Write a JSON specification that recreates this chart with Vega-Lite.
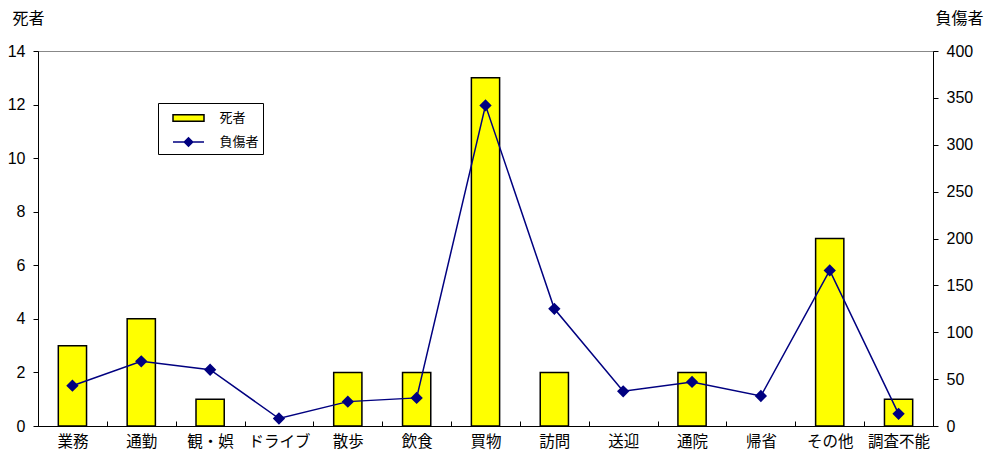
{
  "$schema": "https://vega.github.io/schema/vega-lite/v6.json",
  "width": 895,
  "height": 375,
  "autosize": "none",
  "padding": {"left": 38, "top": 51, "right": 58, "bottom": 31},
  "background": "white",
  "config": {
    "font": "Liberation Sans, Noto Sans CJK JP, sans-serif",
    "view": {"stroke": "#888", "strokeWidth": 1},
    "axis": {
      "labelFont": "Liberation Sans, Noto Sans CJK JP, sans-serif",
      "labelFontSize": 16,
      "labelColor": "black",
      "titleFont": "Noto Sans CJK JP, sans-serif",
      "titleFontSize": 16,
      "titleFontWeight": "normal",
      "titleColor": "black",
      "domainColor": "black",
      "tickColor": "black",
      "grid": false
    },
    "legend": {
      "title": null,
      "orient": "none",
      "legendX": 120,
      "legendY": 52,
      "direction": "vertical",
      "strokeColor": "black",
      "fillColor": "white",
      "padding": 4,
      "symbolSize": 400,
      "symbolOffset": 15.5,
      "rowPadding": 6,
      "labelFont": "Noto Sans CJK JP, sans-serif",
      "labelFontSize": 13,
      "labelColor": "black",
      "labelOffset": 20
    }
  },
  "data": {
    "values": [
      {"cat": "業務", "deaths": 3, "injured": 43},
      {"cat": "通勤", "deaths": 4, "injured": 69},
      {"cat": "観・娯", "deaths": 1, "injured": 60},
      {"cat": "ドライブ", "deaths": 0, "injured": 8},
      {"cat": "散歩", "deaths": 2, "injured": 26},
      {"cat": "飲食", "deaths": 2, "injured": 30},
      {"cat": "買物", "deaths": 13, "injured": 342},
      {"cat": "訪問", "deaths": 2, "injured": 125},
      {"cat": "送迎", "deaths": 0, "injured": 37},
      {"cat": "通院", "deaths": 2, "injured": 47},
      {"cat": "帰省", "deaths": 0, "injured": 32},
      {"cat": "その他", "deaths": 7, "injured": 166},
      {"cat": "調査不能", "deaths": 1, "injured": 13}
    ]
  },
  "encoding": {
    "x": {
      "field": "cat",
      "type": "nominal",
      "sort": ["業務", "通勤", "観・娯", "ドライブ", "散歩", "飲食", "買物", "訪問", "送迎", "通院", "帰省", "その他", "調査不能"],
      "scale": {"paddingInner": 0, "paddingOuter": 0},
      "axis": {
        "title": null,
        "labelAngle": 0,
        "tickBand": "extent",
        "tickSize": -5,
        "labelPadding": 13,
        "labelFont": "Noto Sans CJK JP, sans-serif",
        "labelFontSize": 15.5
      }
    }
  },
  "layer": [
    {
      "transform": [{"filter": "datum.deaths > 0"}],
      "mark": {"type": "bar", "width": {"band": 0.41}, "fill": "#FFFF00", "stroke": "black", "strokeWidth": 1.5},
      "encoding": {
        "y": {
          "field": "deaths",
          "type": "quantitative",
          "scale": {"domain": [0, 14]},
          "axis": {
            "title": "死者",
            "orient": "left",
            "values": [0, 2, 4, 6, 8, 10, 12, 14],
            "tickSize": 5,
            "labelPadding": 8,
            "titleAngle": 0,
            "titleAlign": "left",
            "titleBaseline": "middle",
            "titleX": -26,
            "titleY": -33
          }
        }
      }
    },
    {
      "mark": {
        "type": "line",
        "strokeWidth": 1.5,
        "point": {"shape": "diamond", "filled": true, "fill": "#000080", "size": 90, "opacity": 1}
      },
      "encoding": {
        "y": {
          "field": "injured",
          "type": "quantitative",
          "scale": {"domain": [0, 400]},
          "axis": {
            "title": "負傷者",
            "orient": "right",
            "values": [0, 50, 100, 150, 200, 250, 300, 350, 400],
            "tickSize": 5,
            "labelPadding": 8,
            "titleAngle": 0,
            "titleAlign": "left",
            "titleBaseline": "middle",
            "titleX": 2,
            "titleY": -33
          }
        },
        "stroke": {
          "datum": "負傷者",
          "type": "nominal",
          "scale": {"domain": ["死者", "負傷者"], "range": ["#000000", "#000080"]},
          "legend": {
            "encode": {
              "symbols": {
                "update": {
                  "shape": {"signal": "datum.value === '死者' ? 'M-1.55,-0.32H1.55V0.32H-1.55Z' : 'M-1.55,0H1.55M-0.42,0L0,-0.42L0.42,0L0,0.42Z'"},
                  "fill": {"signal": "datum.value === '死者' ? '#FFFF00' : '#000080'"},
                  "stroke": {"signal": "datum.value === '死者' ? '#000000' : '#000080'"},
                  "strokeWidth": {"value": 1.5},
                  "strokeOpacity": {"value": 1},
                  "fillOpacity": {"value": 1},
                  "opacity": {"value": 1}
                }
              }
            }
          }
        }
      }
    }
  ],
  "resolve": {"scale": {"y": "independent"}}
}
